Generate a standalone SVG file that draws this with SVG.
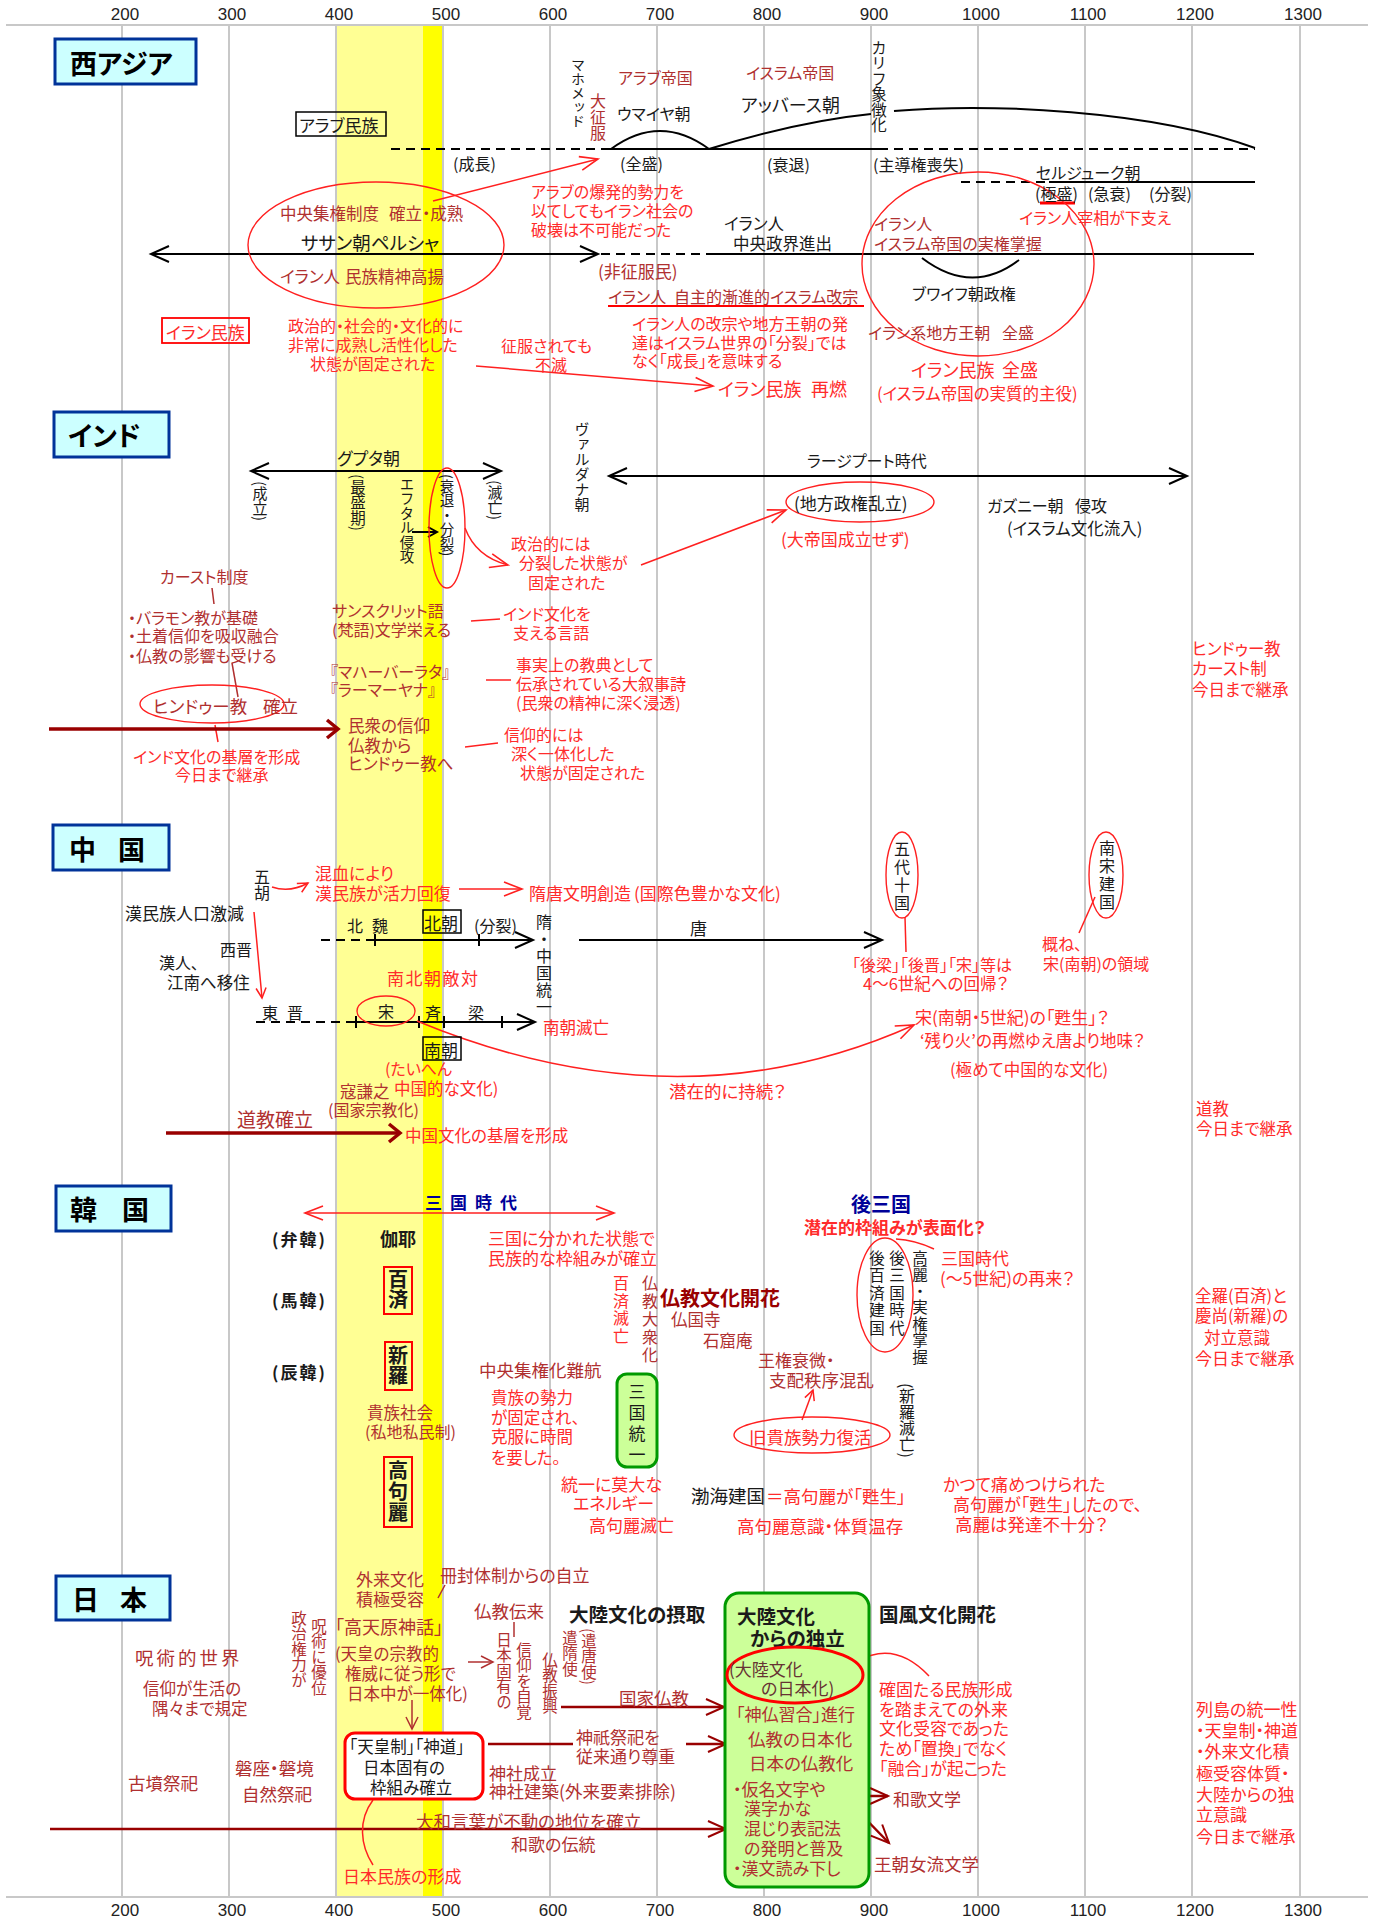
<svg xmlns="http://www.w3.org/2000/svg" width="1383" height="1917" viewBox="0 0 1383 1917" font-size="16">
<defs>
<style>
text{font-family:"Noto Sans CJK JP","Noto Sans",sans-serif;dominant-baseline:central;font-feature-settings:"palt"}
.v{writing-mode:vertical-rl;font-feature-settings:normal}
.k{fill:#1a1a1a}
.rb{fill:#b03030}
.r{fill:#ff2b2b}
.dk{fill:#663333}
.dr{fill:#990000;font-weight:bold}
.bl{fill:#000099;font-weight:bold}
.b{font-weight:bold}
.t{font-size:27px;font-weight:bold;fill:#000}
.ax{font-family:"Liberation Sans","Noto Sans",sans-serif;font-size:17px;fill:#222;text-anchor:middle;font-feature-settings:normal}
.tb{fill:#ccffff;stroke:#003399;stroke-width:3}
.grid{stroke:#c8c8c8;stroke-width:2}
.ln{stroke:#000;stroke-width:2;fill:none}
.ds{stroke-dasharray:9 6}
.rl{stroke:#ff2020;stroke-width:1.5;fill:none}
.rbl{stroke:#b03030;stroke-width:1.5;fill:none}
.el{fill:none;stroke:#ff2020;stroke-width:1.4}
.drl{stroke:#990000;stroke-width:3.5;fill:none}
.djl{stroke:#990000;stroke-width:2.5;fill:none}
.gbox{fill:#ccff99;stroke:#009900;stroke-width:3}
</style>
<marker id="ab" viewBox="0 0 20 18" refX="19" refY="9" markerWidth="20" markerHeight="18" markerUnits="userSpaceOnUse" orient="auto-start-reverse" overflow="visible"><path d="M1,1 L19,9 L1,17" fill="none" stroke="#000" stroke-width="2"/></marker>
<marker id="ar" viewBox="0 0 20 16" refX="19" refY="8" markerWidth="20" markerHeight="16" markerUnits="userSpaceOnUse" orient="auto-start-reverse" overflow="visible"><path d="M1,1 L19,8 L1,15" fill="none" stroke="#ff2020" stroke-width="1.6"/></marker>
<marker id="ars" viewBox="0 0 12 12" refX="11" refY="6" markerWidth="12" markerHeight="12" markerUnits="userSpaceOnUse" orient="auto" overflow="visible"><path d="M1,1 L11,6 L1,11" fill="none" stroke="#ff2020" stroke-width="1.5"/></marker>
<marker id="rbs" viewBox="0 0 14 12" refX="13" refY="6" markerWidth="14" markerHeight="12" markerUnits="userSpaceOnUse" orient="auto" overflow="visible"><path d="M1,0 L13,6 L1,12" fill="none" stroke="#b03030" stroke-width="1.5"/></marker>
<marker id="ad" viewBox="0 0 14 20" refX="12" refY="10" markerWidth="14" markerHeight="20" markerUnits="userSpaceOnUse" orient="auto" overflow="visible"><path d="M1,1 L12,10 L1,19" fill="none" stroke="#990000" stroke-width="3.5"/></marker>
<marker id="aj" viewBox="0 0 20 18" refX="19" refY="9" markerWidth="20" markerHeight="18" markerUnits="userSpaceOnUse" orient="auto" overflow="visible"><path d="M1,1 L19,9 L1,17" fill="none" stroke="#990000" stroke-width="2"/></marker>
</defs>
<rect width="1383" height="1917" fill="#fff"/>
<g id="band">
<rect x="336" y="25" width="87" height="1872" fill="#ffff94"/>
<rect x="423" y="25" width="20" height="1872" fill="#ffff00"/>
</g>
<g id="axis">
<line class="grid" x1="6" y1="25" x2="1368" y2="25"/>
<line class="grid" x1="6" y1="1897" x2="1368" y2="1897"/>
<line class="grid" x1="122" y1="25" x2="122" y2="1897"/>
<line class="grid" x1="229" y1="25" x2="229" y2="1897"/>
<line class="grid" x1="336" y1="25" x2="336" y2="1897"/>
<line class="grid" x1="443" y1="25" x2="443" y2="1897"/>
<line class="grid" x1="550" y1="25" x2="550" y2="1897"/>
<line class="grid" x1="657" y1="25" x2="657" y2="1897"/>
<line class="grid" x1="764" y1="25" x2="764" y2="1897"/>
<line class="grid" x1="871" y1="25" x2="871" y2="1897"/>
<line class="grid" x1="978" y1="25" x2="978" y2="1897"/>
<line class="grid" x1="1085" y1="25" x2="1085" y2="1897"/>
<line class="grid" x1="1192" y1="25" x2="1192" y2="1897"/>
<line class="grid" x1="1300" y1="25" x2="1300" y2="1897"/>
<text class="ax" x="125" y="14">200</text><text class="ax" x="232" y="14">300</text><text class="ax" x="339" y="14">400</text><text class="ax" x="446" y="14">500</text><text class="ax" x="553" y="14">600</text><text class="ax" x="660" y="14">700</text><text class="ax" x="767" y="14">800</text><text class="ax" x="874" y="14">900</text><text class="ax" x="981" y="14">1000</text><text class="ax" x="1088" y="14">1100</text><text class="ax" x="1195" y="14">1200</text><text class="ax" x="1303" y="14">1300</text>
<text class="ax" x="125" y="1910">200</text><text class="ax" x="232" y="1910">300</text><text class="ax" x="339" y="1910">400</text><text class="ax" x="446" y="1910">500</text><text class="ax" x="553" y="1910">600</text><text class="ax" x="660" y="1910">700</text><text class="ax" x="767" y="1910">800</text><text class="ax" x="874" y="1910">900</text><text class="ax" x="981" y="1910">1000</text><text class="ax" x="1088" y="1910">1100</text><text class="ax" x="1195" y="1910">1200</text><text class="ax" x="1303" y="1910">1300</text>
</g>

<g id="connectors">
<path class="ln ds" d="M391,149 H605"/>
<path class="ln" d="M605,149 H879"/>
<path class="ln ds" d="M879,149 H1255"/>
<path class="ln" d="M611,149 Q660,113 709,149"/>
<path class="ln" d="M709,149 Q800,121 871,114" stroke-width="1.5"/>
<path class="ln" d="M894,111 C990,103 1150,110 1255,148" stroke-width="1.5"/>
<path class="ln" d="M151,254 H598" marker-start="url(#ab)" marker-end="url(#ab)"/>
<path class="ln ds" d="M601,254 H706"/>
<path class="ln" d="M706,254 H1254"/>
<path class="ln" d="M922,258 Q972,296 1019,260" stroke-width="1.5"/>
<path class="ln ds" d="M961,182 H1049"/>
<path class="ln" d="M1049,182 H1255"/>
<path d="M1040,203 H1075" stroke="#ff0000" stroke-width="3"/>
<path d="M608,306 H864" stroke="#ff0000" stroke-width="2"/>
<path class="rl" d="M433,201 L598,159" marker-end="url(#ar)"/>
<path class="rl" d="M476,366 L713,386" marker-end="url(#ar)"/>
<path class="ln" d="M251,471 H501" marker-start="url(#ab)" marker-end="url(#ab)"/>
<path class="ln" d="M609,476 H1187" marker-start="url(#ab)" marker-end="url(#ab)"/>
<path class="ln" d="M412,532 H437 M428,527 L437,532 L428,537" stroke-width="1.8"/>
<path class="rl" d="M465,528 Q476,557 508,565" marker-end="url(#ar)"/>
<path class="rl" d="M641,565 L786,510" marker-end="url(#ar)"/>
<path class="rbl" d="M212,588 L214,604"/>
<path class="rbl" d="M232,663 L238,697"/>
<path class="rl" d="M215,725 L218,742"/>
<path class="drl" d="M49,729 H338" marker-end="url(#ad)"/>
<path class="rl" d="M471,621 L500,619"/>
<path class="rl" d="M486,680 H511" stroke-width="2.2"/>
<path class="rl" d="M465,747 L498,743"/>
<path class="rl" d="M272,887 Q290,893 308,883" marker-end="url(#ars)"/>
<path class="rl" d="M459,889 H522" stroke-width="2" marker-end="url(#ar)"/>
<path class="rl" d="M254,912 L262,998" marker-end="url(#ars)"/>
<path class="ln ds" d="M321,940 H367"/>
<path class="ln" d="M367,940 H533" marker-end="url(#ab)"/>
<path class="ln" d="M375,934 V946 M479,934 V946" stroke-width="1"/>
<path class="ln" d="M579,940 H882" marker-end="url(#ab)"/>
<path class="rl" d="M905,917 L906,952"/>
<path class="rl" d="M1095,897 L1079,933"/>
<path class="ln ds" d="M256,1022 H357"/>
<path class="ln" d="M357,1022 H535" marker-end="url(#ab)"/>
<path class="ln" d="M356,1016 V1028 M419,1016 V1028 M444,1016 V1028 M502,1016 V1028" stroke-width="1"/>
<path class="rl" d="M417,1021 Q680,1130 914,1025" marker-end="url(#ar)"/>
<path class="drl" d="M166,1133 H400" marker-end="url(#ad)"/>
<path class="rl" d="M305,1213 H614" stroke-width="2.2" marker-start="url(#ar)" marker-end="url(#ar)"/>
<path class="rl" d="M802,1420 L813,1390" marker-end="url(#ars)"/>
<path class="rl" d="M896,1239 Q915,1240 934,1249"/>
<path class="rbl" d="M438,1598 L445,1585"/>
<path class="rbl" d="M412,1700 V1729" marker-end="url(#rbs)"/>
<path class="rbl" d="M468,1662 H493" marker-end="url(#rbs)"/>
<path class="rbl" d="M514,1622 V1637"/>
<path class="djl" d="M50,1829 H726" marker-end="url(#aj)"/>
<path class="djl" d="M561,1707 H724" marker-end="url(#aj)"/>
<path class="djl" d="M488,1744 H573"/>
<path class="djl" d="M686,1744 H726" marker-end="url(#aj)"/>
<path class="djl" d="M851,1796 H888" stroke-width="2" marker-end="url(#aj)"/>
<path class="djl" d="M854,1807 L889,1843" stroke-width="2" marker-end="url(#aj)"/>
<path class="rl" d="M373,1800 C358,1820 360,1845 373,1865"/>
<path class="rl" d="M858,1661 Q895,1640 929,1676"/>
</g>

<g id="wa-title"><rect class="tb" x="55" y="39" width="141" height="45"/><text class="t" x="70" y="62">西アジア</text></g>
<g id="wa-arab">
<rect x="296" y="112" width="90" height="24" fill="none" stroke="#000" stroke-width="1.5"/>
<text class="k" x="299" y="124" font-size="17">アラブ民族</text>
<text class="k v" x="578" y="58" font-size="14">マホメッド</text>
<text class="rb v" x="598" y="93" font-size="16">大征服</text>
<text class="rb" x="618" y="77" font-size="16">アラブ帝国</text>
<text class="k" x="617" y="113" font-size="16">ウマイヤ朝</text>
<text class="rb" x="746" y="72" font-size="16">イスラム帝国</text>
<text class="k" x="741" y="104" font-size="18">アッバース朝</text>
<text class="k v" x="879" y="40" font-size="15.5">カリフ象徴化</text>
<text class="k" x="453" y="163" font-size="16">(成長)</text>
<text class="k" x="620" y="163" font-size="16">(全盛)</text>
<text class="k" x="767" y="164" font-size="16">(衰退)</text>
<text class="k" x="873" y="164" font-size="16">(主導権喪失)</text>
<text class="r" x="531" y="191" font-size="16">アラブの爆発的勢力を</text>
<text class="r" x="531" y="210" font-size="16">以てしてもイラン社会の</text>
<text class="r" x="531" y="229" font-size="16">破壊は不可能だった</text>
</g>
<g id="wa-sassanid">
<ellipse class="el" cx="376" cy="245" rx="128" ry="63"/>
<text class="rb" y="213" font-size="16.5"><tspan x="280">中央集権制度</tspan><tspan x="389">確立・成熟</tspan></text>
<text class="k" x="301" y="242" font-size="18.5">ササン朝ペルシャ</text>
<text class="rb" y="276" font-size="16.5"><tspan x="280">イラン人</tspan><tspan x="345">民族精神高揚</tspan></text>
<rect x="162" y="318" width="87" height="25" fill="none" stroke="#ff0000" stroke-width="1.8"/>
<text class="r" x="166" y="331" font-size="17">イラン民族</text>
<text class="r" x="288" y="325" font-size="16">政治的・社会的・文化的に</text>
<text class="r" x="288" y="344" font-size="16">非常に成熟し活性化した</text>
<text class="r" x="310" y="363" font-size="16">状態が固定された</text>
</g>
<g id="wa-iran">
<text class="k" x="724" y="223" font-size="16.5">イラン人</text>
<text class="k" x="733" y="243" font-size="16.5">中央政界進出</text>
<text class="rb" x="598" y="270" font-size="17">(非征服民)</text>
<text class="rb" y="296" font-size="16"><tspan x="608">イラン人</tspan><tspan x="674">自主的漸進的イスラム改宗</tspan></text>
<text class="r" x="632" y="323" font-size="16">イラン人の改宗や地方王朝の発</text>
<text class="r" x="632" y="342" font-size="16">達はイスラム世界の「分裂」では</text>
<text class="r" x="632" y="360" font-size="16">なく「成長」を意味する</text>
<text class="r" x="501" y="345" font-size="16">征服されても</text>
<text class="r" x="535" y="364" font-size="16">不滅</text>
<text class="r" y="388" font-size="18"><tspan x="718">イラン民族</tspan><tspan x="811">再燃</tspan></text>
</g>
<g id="wa-islam">
<ellipse class="el" cx="978" cy="264" rx="116" ry="92"/>
<text class="rb" x="874" y="223" font-size="16">イラン人</text>
<text class="rb" x="874" y="243" font-size="16">イスラム帝国の実権掌握</text>
<text class="k" x="912" y="293" font-size="16">ブワイフ朝政権</text>
<text class="rb" y="332" font-size="16"><tspan x="868">イラン系地方王朝</tspan><tspan x="1002">全盛</tspan></text>
<text class="r" y="369" font-size="18"><tspan x="911">イラン民族</tspan><tspan x="1002">全盛</tspan></text>
<text class="r" x="877" y="393" font-size="16.5">(イスラム帝国の実質的主役)</text>
<text class="k" x="1036" y="172" font-size="16">セルジューク朝</text>
<text class="k" y="193" font-size="16"><tspan x="1035">(極盛)</tspan><tspan x="1088">(急衰)</tspan><tspan x="1149">(分裂)</tspan></text>
<text class="r" x="1019" y="217" font-size="16">イラン人宰相が下支え</text>
</g>

<g id="in-title"><rect class="tb" x="54" y="412" width="115" height="45"/><text class="t" x="68" y="434">インド</text></g>
<g id="in-gupta">
<text class="k" x="337" y="457" font-size="17">グプタ朝</text>
<text class="k v" x="260" y="481" font-size="15">(成立)</text>
<text class="k v" x="358" y="474" font-size="15.5">(最盛期)</text>
<text class="k v" x="407" y="477" font-size="14.5">エフタル侵攻</text>
<ellipse class="el" cx="447" cy="528" rx="18" ry="60"/>
<text class="k v" x="447" y="474" font-size="14.5">(衰退・分裂)</text>
<text class="k v" x="495" y="480" font-size="15">(滅亡)</text>
<text class="k v" x="582" y="422" font-size="15">ヴァルダナ朝</text>
<text class="r" x="511" y="543" font-size="16">政治的には</text>
<text class="r" x="519" y="562" font-size="16">分裂した状態が</text>
<text class="r" x="528" y="582" font-size="16">固定された</text>
</g>
<g id="in-rajput">
<ellipse class="el" cx="860" cy="502" rx="74" ry="20"/>
<text class="k" x="794" y="502" font-size="17">(地方政権乱立)</text>
<text class="r" x="781" y="538" font-size="17">(大帝国成立せず)</text>
<text class="k" x="807" y="460" font-size="16">ラージプート時代</text>
<text class="k" y="505" font-size="16"><tspan x="987">ガズニー朝</tspan><tspan x="1075">侵攻</tspan></text>
<text class="k" x="1007" y="528" font-size="16.5">(イスラム文化流入)</text>
</g>
<g id="in-hindu">
<text class="rb" x="160" y="576" font-size="16">カースト制度</text>
<text class="rb" x="128" y="617" font-size="16">・バラモン教が基礎</text>
<text class="rb" x="128" y="635" font-size="16">・土着信仰を吸収融合</text>
<text class="rb" x="128" y="655" font-size="16">・仏教の影響も受ける</text>
<ellipse class="el" cx="212" cy="704" rx="72" ry="19"/>
<text class="rb" y="705" font-size="17.5"><tspan x="153">ヒンドゥー教</tspan><tspan x="263">確立</tspan></text>
<text class="r" x="133" y="756" font-size="16">インド文化の基層を形成</text>
<text class="r" x="175" y="774" font-size="16">今日まで継承</text>
</g>
<g id="in-culture">
<text class="rb" x="332" y="610" font-size="16">サンスクリット語</text>
<text class="rb" x="332" y="629" font-size="16">(梵語)文学栄える</text>
<text class="r" x="503" y="613" font-size="16">インド文化を</text>
<text class="r" x="513" y="632" font-size="16">支える言語</text>
<text class="rb" x="330" y="671" font-size="16">『マハーバーラタ』</text>
<text class="rb" x="330" y="689" font-size="16">『ラーマーヤナ』</text>
<text class="r" x="516" y="664" font-size="16">事実上の教典として</text>
<text class="r" x="516" y="683" font-size="16">伝承されている大叙事詩</text>
<text class="r" x="516" y="702" font-size="16">(民衆の精神に深く浸透)</text>
<text class="rb" x="348" y="725" font-size="16.5">民衆の信仰</text>
<text class="rb" x="348" y="745" font-size="16.5">仏教から</text>
<text class="rb" x="348" y="763" font-size="16.5">ヒンドゥー教へ</text>
<text class="r" x="504" y="734" font-size="16">信仰的には</text>
<text class="r" x="511" y="753" font-size="16">深く一体化した</text>
<text class="r" x="520" y="772" font-size="16">状態が固定された</text>
<text class="r" x="1192" y="648" font-size="16.5">ヒンドゥー教</text>
<text class="r" x="1192" y="668" font-size="16.5">カースト制</text>
<text class="r" x="1192" y="689" font-size="16.5">今日まで継承</text>
</g>

<g id="cn-title"><rect class="tb" x="53" y="825" width="116" height="45"/><text class="t" y="848"><tspan x="69">中</tspan><tspan x="118">国</tspan></text></g>
<g id="cn-north">
<text class="k v" x="262" y="869" font-size="16">五胡</text>
<text class="r" x="315" y="872" font-size="17">混血により</text>
<text class="r" x="315" y="892" font-size="17">漢民族が活力回復</text>
<text class="r" y="892" font-size="17"><tspan x="529">隋唐文明創造</tspan><tspan x="634">(国際色豊かな文化)</tspan></text>
<text class="k" x="125" y="912" font-size="17">漢民族人口激減</text>
<text class="k" x="220" y="949" font-size="16">西晋</text>
<text class="k" x="159" y="962" font-size="16">漢人、</text>
<text class="k" x="167" y="982" font-size="16.5">江南へ移住</text>
<text class="k" x="347" y="925" font-size="16" letter-spacing="9">北魏</text>
<rect x="423" y="910" width="38" height="23" fill="none" stroke="#000" stroke-width="1.5"/>
<text class="k" x="424" y="922" font-size="17">北朝</text>
<text class="k" x="474" y="925" font-size="16">(分裂)</text>
<text class="k v" x="544" y="914" font-size="16" letter-spacing="1">隋・中国統一</text>
<text class="k" x="690" y="927" font-size="17">唐</text>
<ellipse class="el" cx="902" cy="875" rx="16" ry="43"/>
<text class="k v" x="902" y="841" font-size="16" letter-spacing="2">五代十国</text>
<text class="r" x="852" y="964" font-size="16">「後梁」「後晋」「宋」等は</text>
<text class="r" x="863" y="983" font-size="16.5">4〜6世紀への回帰？</text>
<ellipse class="el" cx="1106" cy="875" rx="17" ry="43"/>
<text class="k v" x="1107" y="840" font-size="16" letter-spacing="2">南宋建国</text>
<text class="r" x="1042" y="943" font-size="16">概ね、</text>
<text class="r" x="1043" y="963" font-size="16">宋(南朝)の領域</text>
</g>
<g id="cn-south">
<text class="r" x="387" y="977" font-size="17" letter-spacing="1.5">南北朝敵対</text>
<text class="k" x="262" y="1012" font-size="16" letter-spacing="9">東晋</text>
<ellipse class="el" cx="386" cy="1011" rx="29" ry="15"/>
<text class="k" x="378" y="1011" font-size="16">宋</text>
<text class="k" x="425" y="1012" font-size="16">斉</text>
<text class="k" x="468" y="1012" font-size="16">梁</text>
<rect x="423" y="1037" width="38" height="23" fill="none" stroke="#000" stroke-width="1.5"/>
<text class="k" x="424" y="1049" font-size="17">南朝</text>
<text class="r" x="543" y="1027" font-size="16.5">南朝滅亡</text>
<text class="r" x="669" y="1090" font-size="17.5">潜在的に持続？</text>
<text class="r" x="385" y="1068" font-size="16">(たいへん</text>
<text class="r" x="394" y="1088" font-size="16.5">中国的な文化)</text>
<text class="rb" x="340" y="1091" font-size="16.5">寇謙之</text>
<text class="rb" x="328" y="1109" font-size="16">(国家宗教化)</text>
<text class="rb" x="237" y="1118" font-size="19">道教確立</text>
<text class="r" x="405" y="1135" font-size="16.5">中国文化の基層を形成</text>
<text class="r" x="915" y="1016" font-size="17">宋(南朝・5世紀)の「甦生」？</text>
<text class="r" x="920" y="1040" font-size="16.5">‘残り火’の再燃ゆえ唐より地味？</text>
<text class="r" x="950" y="1069" font-size="16.5">(極めて中国的な文化)</text>
<text class="r" x="1196" y="1108" font-size="16.5">道教</text>
<text class="r" x="1196" y="1128" font-size="16.5">今日まで継承</text>
</g>

<g id="kr-title"><rect class="tb" x="56" y="1186" width="115" height="45"/><text class="t" y="1208"><tspan x="70">韓</tspan><tspan x="122">国</tspan></text></g>
<g id="kr-three">
<text class="bl" x="425" y="1201" font-size="17" letter-spacing="8">三国時代</text>
<text class="k b" x="272" y="1238" font-size="17" letter-spacing="2">(弁韓)</text>
<text class="k b" x="380" y="1238" font-size="18">伽耶</text>
<text class="k b" x="272" y="1299" font-size="17" letter-spacing="2">(馬韓)</text>
<text class="k b" x="272" y="1371" font-size="17" letter-spacing="2">(辰韓)</text>
<rect x="384" y="1267" width="28" height="47" fill="none" stroke="#ff0000" stroke-width="2"/>
<text class="k b v" x="398" y="1269" font-size="20">百済</text>
<rect x="385" y="1342" width="27" height="48" fill="none" stroke="#ff0000" stroke-width="2"/>
<text class="k b v" x="398" y="1345" font-size="20">新羅</text>
<rect x="384" y="1457" width="28" height="70" fill="none" stroke="#ff0000" stroke-width="2"/>
<text class="k b v" x="398" y="1460" font-size="20" letter-spacing="1">高句麗</text>
<text class="rb" x="367" y="1412" font-size="16.5">貴族社会</text>
<text class="rb" x="365" y="1431" font-size="16">(私地私民制)</text>
<text class="r" x="488" y="1237" font-size="17">三国に分かれた状態で</text>
<text class="r" x="488" y="1257" font-size="17">民族的な枠組みが確立</text>
<text class="r v" x="621" y="1275" font-size="16" letter-spacing="1.5">百済滅亡</text>
<text class="rb v" x="650" y="1275" font-size="16" letter-spacing="2">仏教大衆化</text>
<text class="dr" x="660" y="1297" font-size="20">仏教文化開花</text>
<text class="rb" x="671" y="1319" font-size="16.5">仏国寺</text>
<text class="rb" x="703" y="1340" font-size="16.5">石窟庵</text>
<text class="rb" x="479" y="1369" font-size="17.5">中央集権化難航</text>
<text class="r" x="491" y="1397" font-size="16.5">貴族の勢力</text>
<text class="r" x="491" y="1417" font-size="16.5">が固定され、</text>
<text class="r" x="491" y="1436" font-size="16.5">克服に時間</text>
<text class="r" x="491" y="1457" font-size="16.5">を要した。</text>
<rect class="gbox" x="617" y="1374" width="40" height="93" rx="10"/>
<text class="k v" x="637" y="1383" font-size="17" letter-spacing="4">三国統一</text>
<text class="r" x="561" y="1483" font-size="17">統一に莫大な</text>
<text class="r" x="573" y="1502" font-size="17">エネルギー</text>
<text class="r" x="589" y="1524" font-size="17">高句麗滅亡</text>
<text y="1495"><tspan class="k" x="691" font-size="18.5">渤海建国</tspan><tspan class="r" x="766" font-size="17.5">＝高句麗が「甦生」</tspan></text>
<text class="r" x="737" y="1525" font-size="17.5">高句麗意識・体質温存</text>
</g>
<g id="kr-later">
<text class="rb" x="758" y="1359" font-size="17">王権衰微・</text>
<text class="rb" x="769" y="1379" font-size="17.5">支配秩序混乱</text>
<ellipse class="el" cx="812" cy="1435" rx="78" ry="18"/>
<text class="r" x="749" y="1436" font-size="17.5">旧貴族勢力復活</text>
<text class="bl" x="851" y="1203" font-size="20">後三国</text>
<text class="r b" x="804" y="1226" font-size="17">潜在的枠組みが表面化？</text>
<ellipse class="el" cx="885" cy="1295" rx="28" ry="57"/>
<text class="k v" x="877" y="1250" font-size="15.5" letter-spacing="2">後百済建国</text>
<text class="k v" x="897" y="1250" font-size="15.5" letter-spacing="2">後三国時代</text>
<text class="k v" x="920" y="1250" font-size="15.5" letter-spacing="1">高麗・実権掌握</text>
<text class="r" x="941" y="1257" font-size="17">三国時代</text>
<text class="r" x="940" y="1277" font-size="17">(〜5世紀)の再来？</text>
<text class="k v" x="907" y="1383" font-size="16">(新羅滅亡)</text>
<text class="r" x="943" y="1483" font-size="17">かつて痛めつけられた</text>
<text class="r" x="953" y="1503" font-size="17">高句麗が「甦生」したので、</text>
<text class="r" x="955" y="1523" font-size="17.5">高麗は発達不十分？</text>
<text class="r" x="1195" y="1295" font-size="16.5">全羅(百済)と</text>
<text class="r" x="1195" y="1315" font-size="16.5">慶尚(新羅)の</text>
<text class="r" x="1204" y="1337" font-size="16.5">対立意識</text>
<text class="r" x="1195" y="1357" font-size="17">今日まで継承</text>
</g>

<g id="jp-title"><rect class="tb" x="56" y="1576" width="114" height="44"/><text class="t" y="1598"><tspan x="72">日</tspan><tspan x="120">本</tspan></text></g>
<g id="jp-ancient">
<text class="rb" x="135" y="1657" font-size="18.5" letter-spacing="3">呪術的世界</text>
<text class="rb" x="143" y="1688" font-size="16.5">信仰が生活の</text>
<text class="rb" x="152" y="1708" font-size="16.5">隅々まで規定</text>
<text class="rb" x="128" y="1782" font-size="17.5">古墳祭祀</text>
<text class="rb" x="235" y="1767" font-size="17.5">磐座・磐境</text>
<text class="rb" x="242" y="1793" font-size="17.5">自然祭祀</text>
<text class="rb v" x="299" y="1610" font-size="15.5">政治権力が</text>
<text class="rb v" x="319" y="1618" font-size="15.5">呪術に優位</text>
</g>
<g id="jp-tenno">
<text class="rb" x="356" y="1578" font-size="17">外来文化</text>
<text class="rb" x="356" y="1598" font-size="17">積極受容</text>
<text class="rb" x="440" y="1574" font-size="17">冊封体制からの自立</text>
<text class="rb" x="335" y="1626" font-size="18">「高天原神話」</text>
<text class="rb" x="335" y="1653" font-size="16.5">(天皇の宗教的</text>
<text class="rb" x="345" y="1673" font-size="16.5">権威に従う形で</text>
<text class="rb" x="347" y="1693" font-size="16.5">日本中が一体化)</text>
<rect x="345" y="1733" width="138" height="66" rx="10" fill="#fff" stroke="#ff0000" stroke-width="3"/>
<text class="k" x="349" y="1746" font-size="16.5">「天皇制」「神道」</text>
<text class="k" x="363" y="1767" font-size="16.5">日本固有の</text>
<text class="k" x="370" y="1787" font-size="16.5">枠組み確立</text>
<text class="rb" x="416" y="1820" font-size="17.5">大和言葉が不動の地位を確立</text>
<text class="rb" x="511" y="1843" font-size="17">和歌の伝統</text>
<text class="r" x="343" y="1875" font-size="17">日本民族の形成</text>
</g>
<g id="jp-buddhism">
<text class="rb" x="474" y="1610" font-size="17.5">仏教伝来</text>
<text class="rb v" x="504" y="1632" font-size="15.5">日本固有の</text>
<text class="rb v" x="524" y="1642" font-size="15.5">信仰を自覚</text>
<text class="rb v" x="550" y="1652" font-size="15.5">仏教振興</text>
<text class="rb v" x="570" y="1630" font-size="15.5">遣隋使</text>
<text class="rb v" x="589" y="1628" font-size="15.5">(遣唐使)</text>
<text class="k b" x="569" y="1613" font-size="19.5">大陸文化の摂取</text>
<text class="rb" x="619" y="1697" font-size="17.5">国家仏教</text>
<text class="rb" x="576" y="1736" font-size="17">神祇祭祀を</text>
<text class="rb" x="576" y="1755" font-size="17">従来通り尊重</text>
<text class="rb" x="489" y="1772" font-size="17">神社成立</text>
<text class="rb" x="489" y="1790" font-size="17.5">神社建築(外来要素排除)</text>
</g>
<g id="jp-independence">
<rect class="gbox" x="725" y="1593" width="144" height="294" rx="14"/>
<text class="k b" x="737" y="1615" font-size="19.5">大陸文化</text>
<text class="k b" x="750" y="1637" font-size="19.5">からの独立</text>
<ellipse cx="795" cy="1675" rx="68" ry="28" fill="none" stroke="#ff0000" stroke-width="3"/>
<text class="dk" x="729" y="1668" font-size="17">(大陸文化</text>
<text class="dk" x="761" y="1687" font-size="17">の日本化)</text>
<text class="rb" x="736" y="1713" font-size="17">「神仏習合」進行</text>
<text class="rb" x="748" y="1738" font-size="17.5">仏教の日本化</text>
<text class="rb" x="749" y="1762" font-size="17.5">日本の仏教化</text>
<text class="rb" x="733" y="1788" font-size="17">・仮名文字や</text>
<text class="rb" x="744" y="1807" font-size="17">漢字かな</text>
<text class="rb" x="744" y="1827" font-size="17">混じり表記法</text>
<text class="rb" x="744" y="1847" font-size="17">の発明と普及</text>
<text class="rb" x="733" y="1867" font-size="17">・漢文読み下し</text>
</g>
<g id="jp-kokufu">
<text class="k b" x="879" y="1613" font-size="19.5">国風文化開花</text>
<text class="r" x="879" y="1688" font-size="17">確固たる民族形成</text>
<text class="r" x="879" y="1708" font-size="17">を踏まえての外来</text>
<text class="r" x="879" y="1727" font-size="17">文化受容であった</text>
<text class="r" x="879" y="1747" font-size="17">ため「置換」でなく</text>
<text class="r" x="879" y="1767" font-size="17">「融合」が起こった</text>
<text class="rb" x="893" y="1798" font-size="17">和歌文学</text>
<text class="rb" x="874" y="1863" font-size="17.5">王朝女流文学</text>
<text class="r" x="1196" y="1708" font-size="17">列島の統一性</text>
<text class="r" x="1196" y="1729" font-size="17">・天皇制・神道</text>
<text class="r" x="1196" y="1750" font-size="17">・外来文化積</text>
<text class="r" x="1196" y="1772" font-size="17">極受容体質・</text>
<text class="r" x="1196" y="1793" font-size="17">大陸からの独</text>
<text class="r" x="1196" y="1813" font-size="17">立意識</text>
<text class="r" x="1196" y="1835" font-size="17">今日まで継承</text>
</g>
</svg>
